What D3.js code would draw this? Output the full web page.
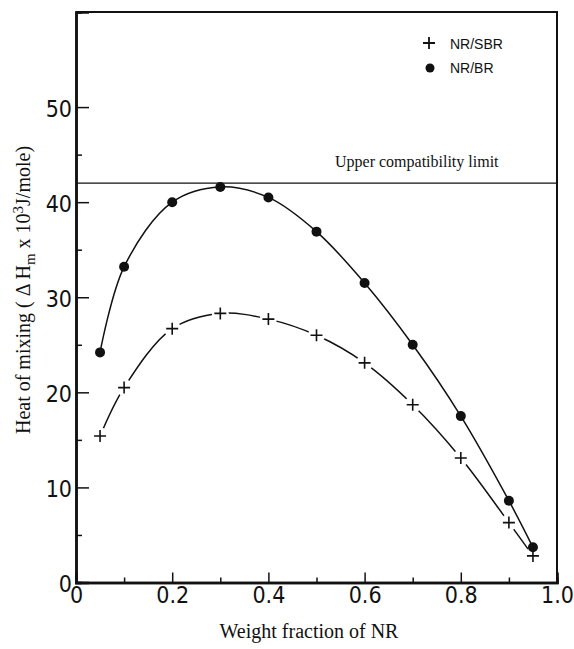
<!DOCTYPE html>
<html>
<head>
<meta charset="utf-8">
<script src="https://cdn.jsdelivr.net/npm/d3@7"></script>
<style>
  body { margin: 0; background: #fff; }
  .tick text { font-family: "Liberation Sans Narrow", "DejaVu Sans Condensed", "Liberation Sans", sans-serif; font-size: 23px; fill: #111; }
  .serif { font-family: "Liberation Serif", "DejaVu Serif", serif; fill: #111; }
  .legend { font-family: "Liberation Sans", "DejaVu Sans", sans-serif; font-size: 14px; fill: #111; }
</style>
</head>
<body>
<svg id="chart" width="574" height="649"></svg>
<script>
// weight fraction of NR
var fractions = [0.05, 0.1, 0.2, 0.3, 0.4, 0.5, 0.6, 0.7, 0.8, 0.9, 0.95];
// heat of mixing, 10^3 J/mole
var nrBR  = [24.2, 33.2, 40.0, 41.6, 40.5, 36.9, 31.5, 25.0, 17.5, 8.6, 3.7];
var nrSBR = [15.4, 20.5, 26.7, 28.3, 27.7, 26.0, 23.1, 18.7, 13.1, 6.3, 2.8];
var upperLimit = 42.0;

var xTicks = [0, 0.2, 0.4, 0.6, 0.8, 1.0];
var xMinor = [0.1, 0.3, 0.5, 0.7, 0.9];
var yTicks = [0, 10, 20, 30, 40, 50];
var yMinor = [5, 15, 25, 35, 45];

var plotLeft = 76, plotRight = 557, plotTop = 12, plotBottom = 582.5;

var svg = d3.select("#chart");

var x = d3.scaleLinear().domain([0, 1]).range([plotLeft, plotRight]);
var y = d3.scaleLinear().domain([0, 60]).range([plotBottom, plotTop]);

// frame
svg.append("path")
    .attr("d", "M" + plotLeft + "," + plotTop + "H" + plotRight + "V" + plotBottom)
    .attr("fill", "none")
    .attr("stroke", "#111")
    .attr("stroke-width", 2);

// axes (ticks point inward)
var yAxis = svg.append("g")
    .attr("transform", "translate(" + plotLeft + ",0)")
    .call(d3.axisLeft(y).tickValues(yTicks).tickSize(-13).tickPadding(4).tickFormat(d3.format("d")));
svg.append("g")
    .attr("transform", "translate(" + plotLeft + ",0)")
    .call(d3.axisLeft(y).tickValues(yMinor).tickSize(-6).tickFormat(""));

var xAxis = svg.append("g")
    .attr("transform", "translate(0," + plotBottom + ")")
    .call(d3.axisBottom(x).tickValues(xTicks).tickSize(-10).tickPadding(4)
        .tickFormat(function (d) { return d === 0 ? "0" : d3.format(".1f")(d); }));
svg.append("g")
    .attr("transform", "translate(0," + plotBottom + ")")
    .call(d3.axisBottom(x).tickValues(xMinor).tickSize(-5).tickFormat(""));

svg.selectAll(".domain").attr("stroke", "#111").attr("stroke-width", 2.5);
svg.selectAll(".tick line").attr("stroke", "#111").attr("stroke-width", 1.5);
yAxis.selectAll(".tick text").attr("dy", "0.4em");

// upper compatibility limit
svg.append("line")
    .attr("x1", plotLeft).attr("x2", plotRight)
    .attr("y1", y(upperLimit)).attr("y2", y(upperLimit))
    .attr("stroke", "#111").attr("stroke-width", 1.3);
svg.append("text")
    .attr("class", "serif")
    .attr("x", 335).attr("y", 166.5)
    .attr("font-size", 16)
    .text("Upper compatibility limit");

var line = d3.line()
    .x(function (d) { return x(d[0]); })
    .y(function (d) { return y(d[1]); })
    .curve(d3.curveCatmullRom.alpha(0.5));

var brPts = fractions.map(function (f, i) { return [f, nrBR[i]]; });
var sbrPts = fractions.map(function (f, i) { return [f, nrSBR[i]]; });

// mask for the gaps around the crosses
var mask = svg.append("defs").append("mask").attr("id", "gaps");
mask.append("rect").attr("width", 574).attr("height", 649).attr("fill", "#fff");
mask.selectAll("circle").data(sbrPts).enter().append("circle")
    .attr("cx", function (d) { return x(d[0]); })
    .attr("cy", function (d) { return y(d[1]); })
    .attr("r", 8.5)
    .attr("fill", "#000");

svg.append("path")
    .datum(brPts)
    .attr("d", line)
    .attr("fill", "none")
    .attr("stroke", "#111")
    .attr("stroke-width", 1.5);

svg.append("path")
    .datum(sbrPts)
    .attr("d", line)
    .attr("fill", "none")
    .attr("stroke", "#111")
    .attr("stroke-width", 1.5)
    .attr("mask", "url(#gaps)");

svg.selectAll(".dot").data(brPts).enter().append("circle")
    .attr("class", "dot")
    .attr("cx", function (d) { return x(d[0]); })
    .attr("cy", function (d) { return y(d[1]); })
    .attr("r", 5)
    .attr("fill", "#111");

function plus(s) { return "M" + (-s) + ",0H" + s + "M0," + (-s) + "V" + s; }

svg.selectAll(".cross").data(sbrPts).enter().append("path")
    .attr("class", "cross")
    .attr("transform", function (d) { return "translate(" + x(d[0]) + "," + y(d[1]) + ")"; })
    .attr("d", plus(6))
    .attr("stroke", "#111")
    .attr("stroke-width", 1.6);

// legend
svg.append("path")
    .attr("transform", "translate(429,43)")
    .attr("d", plus(6))
    .attr("stroke", "#111")
    .attr("stroke-width", 1.8);
svg.append("text").attr("class", "legend").attr("x", 450).attr("y", 48.5).text("NR/SBR");
svg.append("circle").attr("cx", 430).attr("cy", 68).attr("r", 4.5).attr("fill", "#111");
svg.append("text").attr("class", "legend").attr("x", 450).attr("y", 73).text("NR/BR");

// axis titles
svg.append("text")
    .attr("class", "serif")
    .attr("x", 309).attr("y", 638)
    .attr("text-anchor", "middle")
    .attr("font-size", 20)
    .text("Weight fraction of NR");

var yt = svg.append("text")
    .attr("class", "serif")
    .attr("transform", "translate(30,290) rotate(-90)")
    .attr("text-anchor", "middle")
    .attr("font-size", 20);
yt.append("tspan").text("Heat of mixing ( \u0394 H");
yt.append("tspan").attr("dy", 5).attr("font-size", 15).text("m");
yt.append("tspan").attr("dy", -5).text(" x 10");
yt.append("tspan").attr("dy", -7).attr("font-size", 15).text("3");
yt.append("tspan").attr("dy", 7).text("J/mole)");
</script>
</body>
</html>
